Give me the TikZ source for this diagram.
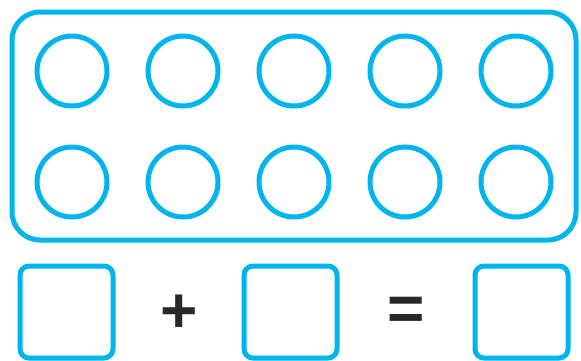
\documentclass[tikz,border=0pt]{standalone}
\usepackage{fontspec}
\setmainfont{Liberation Sans}
\usetikzlibrary{positioning}
\definecolor{tencyan}{RGB}{0,180,236}
\definecolor{signgray}{RGB}{40,40,40}
\tikzset{
  frame/.style     = {draw=tencyan, line width=5pt, rounded corners=28pt,
                      minimum width=564pt, minimum height=228pt, inner sep=0pt},
  counter/.style   = {draw=tencyan, line width=5pt, circle, minimum size=70pt,
                      inner sep=0pt},
  answerbox/.style = {draw=tencyan, line width=5pt, rounded corners=9pt,
                      minimum width=93pt, minimum height=92pt, inner sep=0pt},
  sign/.style      = {text=signgray, inner sep=0pt,
                      font=\bfseries\fontsize{64}{64}\selectfont},
}
\begin{document}
\begin{tikzpicture}[x=1pt,y=-1pt]
  \useasboundingbox (0,0) rectangle (581,360);
  \node[frame] (tenframe) at (294,126) {};
  \foreach \col in {1,...,5} {
    \node[counter] (top\col) at ({72+111*(\col-1)},71) {};
    \node[counter] (bot\col) at ({72+111*(\col-1)},182) {};
  }
  \node[answerbox] (boxa) at (66.5,312) {};
  \node[answerbox] (boxb) at (290.5,312) {};
  \node[answerbox] (boxc) at (521.5,312) {};
  \node[sign] (plus) at (179,314) {+};
  \node[sign] (equals) at (406.5,314) {=};
\end{tikzpicture}
\end{document}
